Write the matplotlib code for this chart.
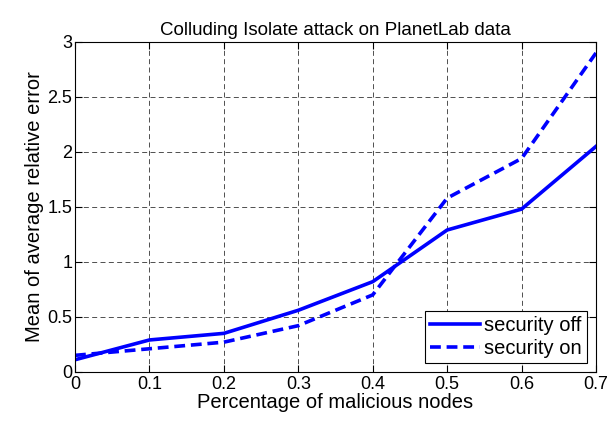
import matplotlib
matplotlib.use("Agg")
import matplotlib.pyplot as plt

plt.rcParams['font.family'] = ['Liberation Sans', 'DejaVu Sans']

pct = [0, 0.1, 0.2, 0.3, 0.4, 0.5, 0.6, 0.7]
sec_off = [0.11, 0.29, 0.35, 0.56, 0.82, 1.29, 1.48, 2.05]
sec_on = [0.15, 0.21, 0.27, 0.42, 0.70, 1.58, 1.94, 2.90]

fig = plt.figure(figsize=(6.10, 4.24), dpi=100)
ax = fig.add_axes([0.123, 0.123, 0.854, 0.778])

ax.plot(pct, sec_off, color='#0000ff', lw=2.6, label='security off')
ax.plot(pct, sec_on, color='#0000ff', lw=2.6, ls=(0, (3, 1.6)), label='security on')

ax.set_xlim(0, 0.7)
ax.set_ylim(0, 3)
ax.set_xticks(pct)
ax.set_xticklabels(['0', '0.1', '0.2', '0.3', '0.4', '0.5', '0.6', '0.7'])
ax.set_yticks([0, 0.5, 1, 1.5, 2, 2.5, 3])
ax.set_yticklabels(['0', '0.5', '1', '1.5', '2', '2.5', '3'])
ax.tick_params(direction='in', labelsize=13, length=5, top=True, right=True)
ax.tick_params(axis='x', pad=3)
ax.tick_params(axis='y', pad=2)
ax.grid(True, color='black', ls=(0, (6, 4)), lw=0.6, alpha=0.8)
for s in ax.spines.values():
    s.set_linewidth(0.8)

ax.set_title('Colluding Isolate attack on PlanetLab data', fontsize=13.5, pad=5)
ax.set_xlabel('Percentage of malicious nodes', fontsize=14.5, labelpad=0)
ax.set_ylabel('Mean of average relative error', fontsize=14.5, labelpad=2)

leg = ax.legend(loc='lower right', fontsize=14.5, fancybox=False, framealpha=1,
                edgecolor='black', borderaxespad=0.45, handlelength=2.5,
                handletextpad=0.2, borderpad=0.25, labelspacing=0.2)
leg.get_frame().set_linewidth(0.8)

fig.savefig('out.png', dpi=100)
